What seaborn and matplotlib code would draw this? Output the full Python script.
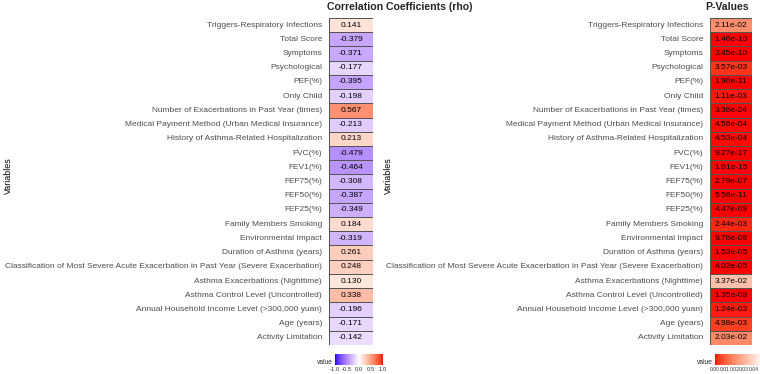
import numpy as np
import pandas as pd
import matplotlib
matplotlib.use("Agg")
import matplotlib.pyplot as plt
import seaborn as sns
from matplotlib.colors import ListedColormap

variables = [
    "Triggers-Respiratory Infections", "Total Score", "Symptoms", "Psychological",
    "PEF(%)", "Only Child", "Number of Exacerbations in Past Year (times)",
    "Medical Payment Method (Urban Medical Insurance)",
    "History of Asthma-Related Hospitalization", "FVC(%)", "FEV1(%)", "FEF75(%)",
    "FEF50(%)", "FEF25(%)", "Family Members Smoking", "Environmental Impact",
    "Duration of Asthma (years)",
    "Classification of Most Severe Acute Exacerbation in Past Year (Severe Exacerbation)",
    "Asthma Exacerbations (Nighttime)", "Asthma Control Level (Uncontrolled)",
    "Annual Household Income Level (>300,000 yuan)", "Age (years)", "Activity Limitation",
]
rho = [0.141, -0.379, -0.371, -0.177, -0.395, -0.198, 0.567, -0.213, 0.213, -0.479,
       -0.464, -0.308, -0.387, -0.349, 0.184, -0.319, 0.261, 0.248, 0.130, 0.338,
       -0.196, -0.171, -0.142]
pvals = [2.11e-02, 1.46e-10, 3.45e-10, 3.57e-03, 1.90e-11, 1.11e-03, 3.36e-24, 4.56e-04,
         4.53e-04, 9.27e-17, 1.01e-15, 2.79e-07, 5.58e-11, 4.47e-09, 2.44e-03, 9.76e-08,
         1.53e-05, 4.02e-05, 3.37e-02, 1.35e-08, 1.24e-03, 4.98e-03, 2.03e-02]
rho_ticks = [-1.0, -0.5, 0.0, 0.5, 1.0]
p_ticks = [0.00, 0.01, 0.02, 0.03, 0.04]

# ---- Lab interpolation helpers (ggplot-like gradients) ----
def _to_lin(c):
    c = np.asarray(c, float)
    return np.where(c <= 0.04045, c / 12.92, ((c + 0.055) / 1.055) ** 2.4)

def _from_lin(c):
    c = np.where(c <= 0.0031308, 12.92 * c, 1.055 * np.clip(c, 0, None) ** (1 / 2.4) - 0.055)
    return np.clip(c, 0, 1)

M = np.array([[0.4124, 0.3576, 0.1805], [0.2126, 0.7152, 0.0722], [0.0193, 0.1192, 0.9505]])
WP = np.array([0.95047, 1.0, 1.08883])

def rgb2lab(rgb):
    xyz = M @ _to_lin(rgb) / WP
    f = np.where(xyz > 0.008856, np.cbrt(xyz), 7.787 * xyz + 16 / 116)
    return np.array([116 * f[1] - 16, 500 * (f[0] - f[1]), 200 * (f[1] - f[2])])

def lab2rgb(lab):
    L, a, b = lab
    fy_ = (L + 16) / 116
    fx_ = fy_ + a / 500
    fz_ = fy_ - b / 200
    f = np.array([fx_, fy_, fz_])
    xyz = np.where(f ** 3 > 0.008856, f ** 3, (f - 16 / 116) / 7.787) * WP
    return _from_lin(np.linalg.inv(M) @ xyz)

def lab_cmap(colors, n=256):
    labs = [rgb2lab(c) for c in colors]
    out = []
    segs = len(labs) - 1
    for t in np.linspace(0, 1, n):
        s = min(int(t * segs), segs - 1)
        u = t * segs - s
        out.append(lab2rgb(labs[s] * (1 - u) + labs[s + 1] * u))
    return ListedColormap(out)

cmap_rho = lab_cmap([(0, 0, 1), (1, 1, 1), (1, 0, 0)])
cmap_p = lab_cmap([(1, 0, 0), (1, 1, 1)])

sns.set_style("white")
plt.rcParams["font.family"] = ["Liberation Sans", "DejaVu Sans"]

W, H = 760, 374
fig = plt.figure(figsize=(W / 100, H / 100), dpi=100)

def fx(px):
    return px / W

def fy(py):
    return 1 - py / H

top, bot = 18, 345
ax1 = fig.add_axes([fx(329), fy(bot), fx(373 - 329), fy(top) - fy(bot)])
ax2 = fig.add_axes([fx(710), fy(bot), fx(752 - 710), fy(top) - fy(bot)])
cax1 = fig.add_axes([fx(335), fy(365), fx(48), fy(354) - fy(365)])
cax2 = fig.add_axes([fx(715), fy(365), fx(48), fy(354) - fy(365)])

df_r = pd.DataFrame({"rho": rho}, index=variables)
df_p = pd.DataFrame({"p": pvals}, index=variables)

sns.heatmap(df_r, ax=ax1, cmap=cmap_rho, vmin=-1, vmax=1, annot=True, fmt=".3f",
            annot_kws={"fontsize": 6.0, "color": "black"}, linewidths=0.7,
            linecolor="#555555", cbar_ax=cax1, cbar_kws={"orientation": "horizontal"},
            xticklabels=False, yticklabels=True)
p_labels = np.array([[f"{v:.2e}"] for v in pvals])
sns.heatmap(df_p, ax=ax2, cmap=cmap_p, vmin=0, vmax=0.05, annot=p_labels, fmt="",
            annot_kws={"fontsize": 6.0, "color": "black"}, linewidths=0.7,
            linecolor="#555555", cbar_ax=cax2, cbar_kws={"orientation": "horizontal"},
            xticklabels=False, yticklabels=True)

for ax, title, tx in [(ax1, "Correlation Coefficients (rho)", 327), (ax2, "P-Values", 705)]:
    ax.set_xlabel("")
    ax.set_ylabel("")
    ax.tick_params(axis="y", length=2, color="#333333", labelsize=6.05, labelcolor="#4D4D4D", pad=3)
    for s in ax.spines.values():
        s.set_visible(False)
    fig.text(fx(tx), fy(7), title, fontsize=7.6, fontweight="bold", ha="left", va="center")

fig.text(fx(8), fy(176), "Variables", rotation=90, fontsize=6.4, color="black",
         ha="center", va="center")
fig.text(fx(388), fy(176), "Variables", rotation=90, fontsize=6.4, color="black",
         ha="center", va="center")

for cax, ticks, vx, fmt, fs in [(cax1, rho_ticks, 333, "{:.1f}", 4.2), (cax2, p_ticks, 713, "{:.2f}", 3.6)]:
    cax.set_xticks(ticks)
    cax.set_xticklabels([fmt.format(t) for t in ticks])
    cax.tick_params(axis="x", labelsize=fs, length=0, pad=1.5, colors="#333333")
    cax.xaxis.set_ticks_position("bottom")
    for s in cax.spines.values():
        s.set_visible(False)
    fig.text(fx(vx), fy(362), "value", fontsize=4.8, ha="right", va="center")

fig.savefig("out.png", dpi=100)
